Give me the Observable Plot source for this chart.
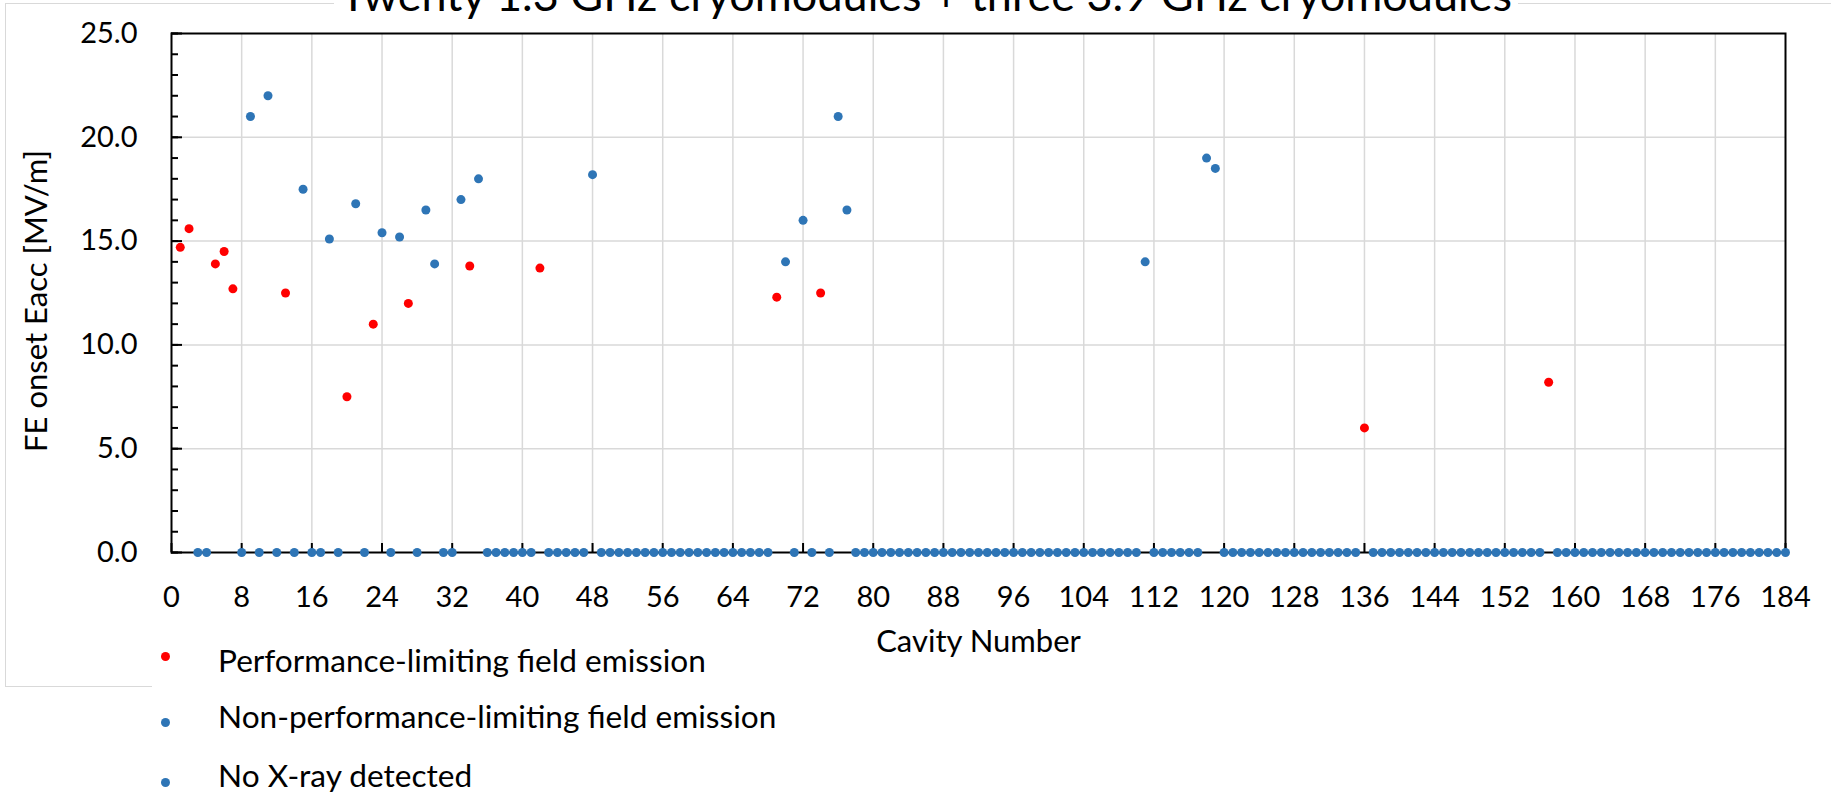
<!DOCTYPE html>
<html>
<head>
<meta charset="utf-8">
<script src="https://cdn.jsdelivr.net/npm/d3@7"></script>
<script src="https://cdn.jsdelivr.net/npm/@observablehq/plot@0.6"></script>
<style>
  html, body { margin: 0; padding: 0; background: #fff; }
  #page { position: relative; width: 1831px; height: 794px; overflow: hidden; font-family: Lato, sans-serif; color: #000; background: #fff; }
  #chart { position: absolute; left: 0; top: 0; }
  .bline { position: absolute; background: #d9d9d9; }
  #title { position: absolute; left: 0; width: 1852px; top: -28px; text-align: center; font-size: 45px; line-height: 45px; white-space: nowrap; }
  #title span { background: #fff; padding: 0 6px; }
  .leg { position: absolute; left: 218px; font-size: 31.6px; line-height: 32px; white-space: nowrap; }
  .legdot { position: absolute; width: 9px; height: 9px; border-radius: 50%; }
</style>
</head>
<body>
<div id="page">
  <div class="bline" style="left:5px;top:3px;width:1px;height:683px;"></div>
  <div class="bline" style="left:5px;top:3px;width:1826px;height:1px;"></div>
  <div class="bline" style="left:5px;top:686px;width:147px;height:1px;"></div>
  <div id="chart"></div>
  <div id="title"><span>Twenty 1.3 GHz cryomodules + three 3.9 GHz cryomodules</span></div>
  <div id="legend"></div>
</div>
<script>
// ---- data ----
const performanceLimitingCavity = [1, 2, 5, 6, 7, 13, 20, 23, 27, 34, 42, 69, 74, 136, 157];
const performanceLimitingEacc   = [14.7, 15.6, 13.9, 14.5, 12.7, 12.5, 7.5, 11.0, 12.0, 13.8, 13.7, 12.3, 12.5, 6.0, 8.2];

const nonLimitingCavity = [9, 11, 15, 18, 21, 24, 26, 29, 30, 33, 35, 48, 70, 72, 76, 77, 111, 118, 119];
const nonLimitingEacc   = [21.0, 22.0, 17.5, 15.1, 16.8, 15.4, 15.2, 16.5, 13.9, 17.0, 18.0, 18.2, 14.0, 16.0, 21.0, 16.5, 14.0, 19.0, 18.5];

// cavities with no X-ray detected (plotted at Eacc = 0)
const noXrayCavity = [3, 4, 8, 10, 12, 14, 16, 17, 19, 22, 25, 28, 31, 32, 36, 37, 38, 39, 40, 41, 43, 44, 45, 46, 47,
  49, 50, 51, 52, 53, 54, 55, 56, 57, 58, 59, 60, 61, 62, 63, 64, 65, 66, 67, 68,
  71, 73, 75,
  78, 79, 80, 81, 82, 83, 84, 85, 86, 87, 88, 89, 90, 91, 92, 93, 94, 95, 96, 97, 98, 99, 100, 101, 102, 103, 104, 105, 106, 107, 108, 109, 110,
  112, 113, 114, 115, 116, 117,
  120, 121, 122, 123, 124, 125, 126, 127, 128, 129, 130, 131, 132, 133, 134, 135,
  137, 138, 139, 140, 141, 142, 143, 144, 145, 146, 147, 148, 149, 150, 151, 152, 153, 154, 155, 156,
  158, 159, 160, 161, 162, 163, 164, 165, 166, 167, 168, 169, 170, 171, 172, 173, 174, 175, 176, 177, 178, 179, 180, 181, 182, 183, 184];
const noXrayEacc = 0;

const xTicks = [0, 8, 16, 24, 32, 40, 48, 56, 64, 72, 80, 88, 96, 104, 112, 120, 128, 136, 144, 152, 160, 168, 176, 184];
const yTicks = [0, 5, 10, 15, 20, 25];
const yMinorTicks = [0, 1, 2, 3, 4, 5, 6, 7, 8, 9, 10, 11, 12, 13, 14, 15, 16, 17, 18, 19, 20, 21, 22, 23, 24, 25];

const seriesNames = ["Performance-limiting field emission", "Non-performance-limiting field emission", "No X-ray detected"];
const seriesColors = ["#ff0000", "#2e75b6", "#2e75b6"];

const xTitle = "Cavity Number";
const yTitle = "FE onset Eacc [MV/m]";

// ---- build ----
const limiting = performanceLimitingCavity.map((c, i) => ({cavity: c, eacc: performanceLimitingEacc[i]}));
const nonLimiting = nonLimitingCavity.map((c, i) => ({cavity: c, eacc: nonLimitingEacc[i]}));
const noXray = noXrayCavity.map(c => ({cavity: c, eacc: noXrayEacc}));

const gridStyle = {stroke: "#d9d9d9", strokeOpacity: 1, strokeWidth: 1.5};

const chart = Plot.plot({
  width: 1831,
  height: 700,
  marginLeft: 171,
  marginRight: 46,
  marginTop: 33,
  marginBottom: 148,
  style: {fontFamily: "Lato, sans-serif", background: "transparent", color: "#000", overflow: "visible"},
  x: {domain: [0, 184]},
  y: {domain: [0, 25]},
  marks: [
    Plot.gridX(xTicks.filter(t => t > 0 && t < 184), gridStyle),
    Plot.gridY(yTicks.filter(t => t > 0 && t < 25), gridStyle),
    Plot.frame({stroke: "#000", strokeWidth: 2}),
    Plot.axisY(yMinorTicks, {tickSize: -7, tickFormat: () => "", label: null, strokeWidth: 2}),
    Plot.axisY(yTicks, {tickSize: -11, tickFormat: () => "", label: null, strokeWidth: 2}),
    Plot.axisY(yTicks, {tickSize: 0, tickPadding: 34, tickFormat: d => d.toFixed(1), fontSize: 29, label: null}),
    Plot.axisX(xTicks, {tickSize: -9, tickFormat: () => "", label: null, strokeWidth: 2}),
    Plot.axisX(xTicks, {tickSize: 0, tickPadding: 34, tickFormat: d => String(d), fontSize: 29, label: null}),
    Plot.text([yTitle], {frameAnchor: "left", dx: -134, dy: 8, rotate: -90, fontSize: 31, textAnchor: "middle", lineAnchor: "middle"}),
    Plot.text([xTitle], {frameAnchor: "bottom", dy: 90, fontSize: 31, textAnchor: "middle", lineAnchor: "middle"}),
    Plot.dot(limiting, {x: "cavity", y: "eacc", r: 4.5, fill: seriesColors[0], stroke: "none"}),
    Plot.dot(nonLimiting, {x: "cavity", y: "eacc", r: 4.5, fill: seriesColors[1], stroke: "none"}),
    Plot.dot(noXray, {x: "cavity", y: "eacc", r: 4.5, fill: seriesColors[2], stroke: "none"})
  ]
});
document.getElementById("chart").appendChild(chart);

// ---- legend ----
const legend = document.getElementById("legend");
const legTextTop = [644, 700, 759];
const legDotCenter = [656, 722, 782];
seriesNames.forEach((name, i) => {
  const dot = document.createElement("div");
  dot.className = "legdot";
  dot.style.background = seriesColors[i];
  dot.style.left = (165 - 4.5) + "px";
  dot.style.top = (legDotCenter[i] - 4.5) + "px";
  legend.appendChild(dot);
  const t = document.createElement("div");
  t.className = "leg";
  t.style.top = legTextTop[i] + "px";
  t.textContent = name;
  legend.appendChild(t);
});
</script>
</body>
</html>
